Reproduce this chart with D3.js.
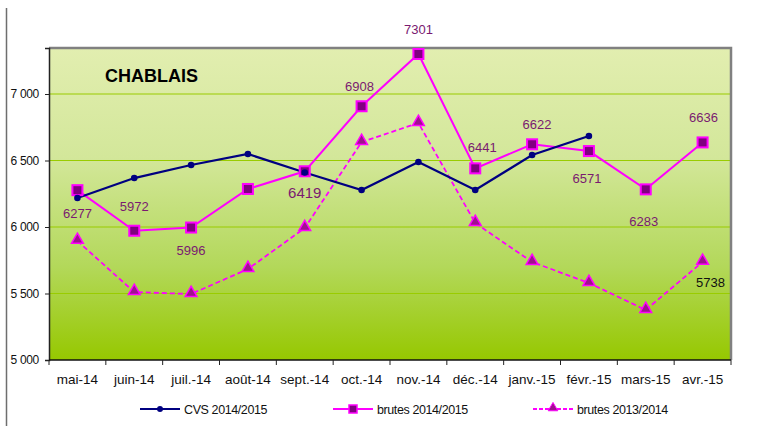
<!DOCTYPE html>
<html>
<head>
<meta charset="utf-8">
<script src="https://cdn.jsdelivr.net/npm/d3@7"></script>
<style>
  body { margin: 0; background: #fff; }
  svg { display: block; font-family: "Liberation Sans Narrow", "Liberation Sans", Arial, sans-serif; }
</style>
</head>
<body>
<svg id="chart" width="766" height="426"></svg>
<script>
// months on the x axis
const months = ["mai-14", "juin-14", "juil.-14", "août-14", "sept.-14", "oct.-14", "nov.-14", "déc.-14", "janv.-15", "févr.-15", "mars-15", "avr.-15"];

// CVS 2014/2015 (stops at févr.)
const cvs = [6218, 6368, 6466, 6549, 6410, 6278, 6489, 6278, 6541, 6684, null, null];
// brutes 2014/2015
const brutes1415 = [6277, 5972, 5996, 6286, 6419, 6908, 7301, 6441, 6622, 6571, 6283, 6636];
// brutes 2013/2014
const brutes1314 = [5895, 5511, 5496, 5684, 5992, 6639, 6782, 6030, 5737, 5579, 5376, 5738];

const yTicks = [5000, 5500, 6000, 6500, 7000];

const svg = d3.select("#chart");
const margin = { left: 49, top: 48, right: 35, bottom: 66 };
const width = 766 - margin.left - margin.right,
    height = 426 - margin.top - margin.bottom;

const x = d3.scaleBand().domain(months).range([0, width]);
const y = d3.scaleLinear().domain([5000, 7346]).range([height, 0]);

// outer chart border (only left edge shows)
svg.append("line")
    .attr("x1", 6.5).attr("x2", 6.5)
    .attr("y1", 8).attr("y2", 426)
    .attr("stroke", "#6e6e6e").attr("stroke-width", 1.5);

// background gradient
const defs = svg.append("defs");
const grad = defs.append("linearGradient")
    .attr("id", "bg").attr("x1", 0).attr("x2", 0).attr("y1", 0).attr("y2", 1);
grad.append("stop").attr("offset", "0%").attr("stop-color", "#e2eeb0");
grad.append("stop").attr("offset", "35%").attr("stop-color", "#d3e79a");
grad.append("stop").attr("offset", "70%").attr("stop-color", "#b3d85a");
grad.append("stop").attr("offset", "100%").attr("stop-color", "#96c800");

const g = svg.append("g").attr("transform", `translate(${margin.left},${margin.top})`);

g.append("rect")
    .attr("width", width).attr("height", height)
    .attr("fill", "url(#bg)");

// gridlines
g.append("g").selectAll("line")
    .data(yTicks.slice(1))
    .enter().append("line")
    .attr("x1", 0).attr("x2", width)
    .attr("y1", d => y(d)).attr("y2", d => y(d))
    .attr("stroke", "#99cc00").attr("stroke-width", 1.2);

// plot border: top and right gray
g.append("path")
    .attr("d", `M0,0H${width}V${height}`)
    .attr("fill", "none").attr("stroke", "#808080").attr("stroke-width", 2.5);

// y axis
const yAxis = g.append("g")
    .call(d3.axisLeft(y).tickValues(yTicks).tickSize(4).tickPadding(6)
        .tickFormat(d => d3.format(",")(d).replace(",", " ")));
yAxis.select(".domain").attr("stroke", "#222").attr("stroke-width", 1.5);
yAxis.selectAll("line").attr("stroke", "#222");
yAxis.selectAll("text").attr("font-size", 12).attr("fill", "#111").style("letter-spacing", "-0.3px");

// x axis with ticks between categories
const xAxis = g.append("g").attr("transform", `translate(0,${height})`);
xAxis.append("line")
    .attr("x1", 0).attr("x2", width)
    .attr("stroke", "#111").attr("stroke-width", 1.5);
xAxis.selectAll(".tick")
    .data(d3.range(months.length + 1))
    .enter().append("line")
    .attr("x1", d => d * x.step()).attr("x2", d => d * x.step())
    .attr("y1", 0).attr("y2", 5)
    .attr("stroke", "#222");
xAxis.selectAll("text")
    .data(months)
    .enter().append("text")
    .attr("x", d => x(d) + x.bandwidth() / 2)
    .attr("y", 24)
    .attr("text-anchor", "middle")
    .attr("font-size", 13.5)
    .attr("fill", "#111")
    .text(d => d);

// title
g.append("text")
    .attr("x", 56).attr("y", 34)
    .attr("font-family", "Liberation Sans, Arial, sans-serif")
    .attr("font-weight", "bold").attr("font-size", 18)
    .attr("fill", "#000")
    .text("CHABLAIS");

const cx = (d, i) => x(months[i]) + x.bandwidth() / 2;

// line generators
const line = d3.line()
    .defined(d => d != null)
    .x(cx)
    .y(d => y(d));

// brutes 2013/2014 dashed
g.append("path")
    .datum(brutes1314)
    .attr("d", line)
    .attr("fill", "none").attr("stroke", "#ff00ff")
    .attr("stroke-width", 1.8).attr("stroke-dasharray", "5,3");

// brutes 2014/2015
g.append("path")
    .datum(brutes1415)
    .attr("d", line)
    .attr("fill", "none").attr("stroke", "#ff00ff").attr("stroke-width", 2);

// CVS
g.append("path")
    .datum(cvs)
    .attr("d", line)
    .attr("fill", "none").attr("stroke", "#000080").attr("stroke-width", 2.2);

// markers
const tri = d3.symbol().type(d3.symbolTriangle).size(60);
g.append("g").selectAll("path")
    .data(brutes1314)
    .enter().append("path")
    .attr("d", tri)
    .attr("transform", (d, i) => `translate(${cx(d, i)},${y(d) - 1})`)
    .attr("fill", "#a0108f").attr("stroke", "#ff00ff").attr("stroke-width", 1.5);

g.append("g").selectAll("rect")
    .data(brutes1415)
    .enter().append("rect")
    .attr("x", (d, i) => cx(d, i) - 5)
    .attr("y", d => y(d) - 5)
    .attr("width", 10).attr("height", 10)
    .attr("fill", "#800080").attr("stroke", "#ff00ff").attr("stroke-width", 2);

g.append("g").selectAll("circle")
    .data(cvs.map((v, i) => ({ v, i })).filter(d => d.v != null))
    .enter().append("circle")
    .attr("cx", d => cx(d.v, d.i))
    .attr("cy", d => y(d.v))
    .attr("r", 3.3)
    .attr("fill", "#000080");

// data labels for brutes 2014/2015: offset [dx, dy] of label centre from the point
const labelOffsets = [[0, 23], [0, -24], [0, 23], null, [0, 22], [-2, -20], [0, -25], [7, -21], [5, -20], [-2, 27], [-2, 32], [1, -25]];
g.append("g").selectAll("text")
    .data(brutes1415.map((v, i) => ({ v, i })).filter(d => labelOffsets[d.i]))
    .enter().append("text")
    .attr("x", d => cx(d.v, d.i) + labelOffsets[d.i][0])
    .attr("y", d => y(d.v) + labelOffsets[d.i][1] + 4.5)
    .attr("text-anchor", "middle")
    .attr("font-size", d => d.i === 4 ? 15 : 13)
    .attr("fill", "#7a1a70")
    .text(d => d.v);

// label for last brutes 2013/2014 point
g.append("text")
    .attr("x", cx(0, 11) + 8)
    .attr("y", y(brutes1314[11]) + 21 + 4.5)
    .attr("text-anchor", "middle")
    .attr("font-size", 13)
    .attr("fill", "#111")
    .text(brutes1314[11]);

// legend
const legend = svg.append("g").attr("transform", "translate(0,409)");
const items = [
    { name: "CVS 2014/2015", x: 140, kind: "cvs" },
    { name: "brutes 2014/2015", x: 333, kind: "b15" },
    { name: "brutes 2013/2014", x: 533, kind: "b14" }
];
items.forEach(it => {
    const lg = legend.append("g").attr("transform", `translate(${it.x},0)`);
    lg.append("line")
        .attr("x1", 0).attr("x2", 40)
        .attr("stroke", it.kind === "cvs" ? "#000080" : "#ff00ff")
        .attr("stroke-width", 2)
        .attr("stroke-dasharray", it.kind === "b14" ? "4,2" : null);
    if (it.kind === "cvs") {
        lg.append("circle").attr("cx", 20).attr("r", 3).attr("fill", "#000080");
    } else if (it.kind === "b15") {
        lg.append("rect").attr("x", 16).attr("y", -4).attr("width", 8).attr("height", 8)
            .attr("fill", "#800080").attr("stroke", "#ff00ff").attr("stroke-width", 1.5);
    } else {
        lg.append("path").attr("d", d3.symbol().type(d3.symbolTriangle).size(40))
            .attr("transform", "translate(20,-1)")
            .attr("fill", "#a0108f").attr("stroke", "#ff00ff").attr("stroke-width", 1);
    }
    lg.append("text")
        .attr("x", 44).attr("y", 4.5)
        .attr("font-size", 12.5)
        .attr("fill", "#111")
        .style("letter-spacing", "-0.4px")
        .text(it.name);
});
</script>
</body>
</html>
